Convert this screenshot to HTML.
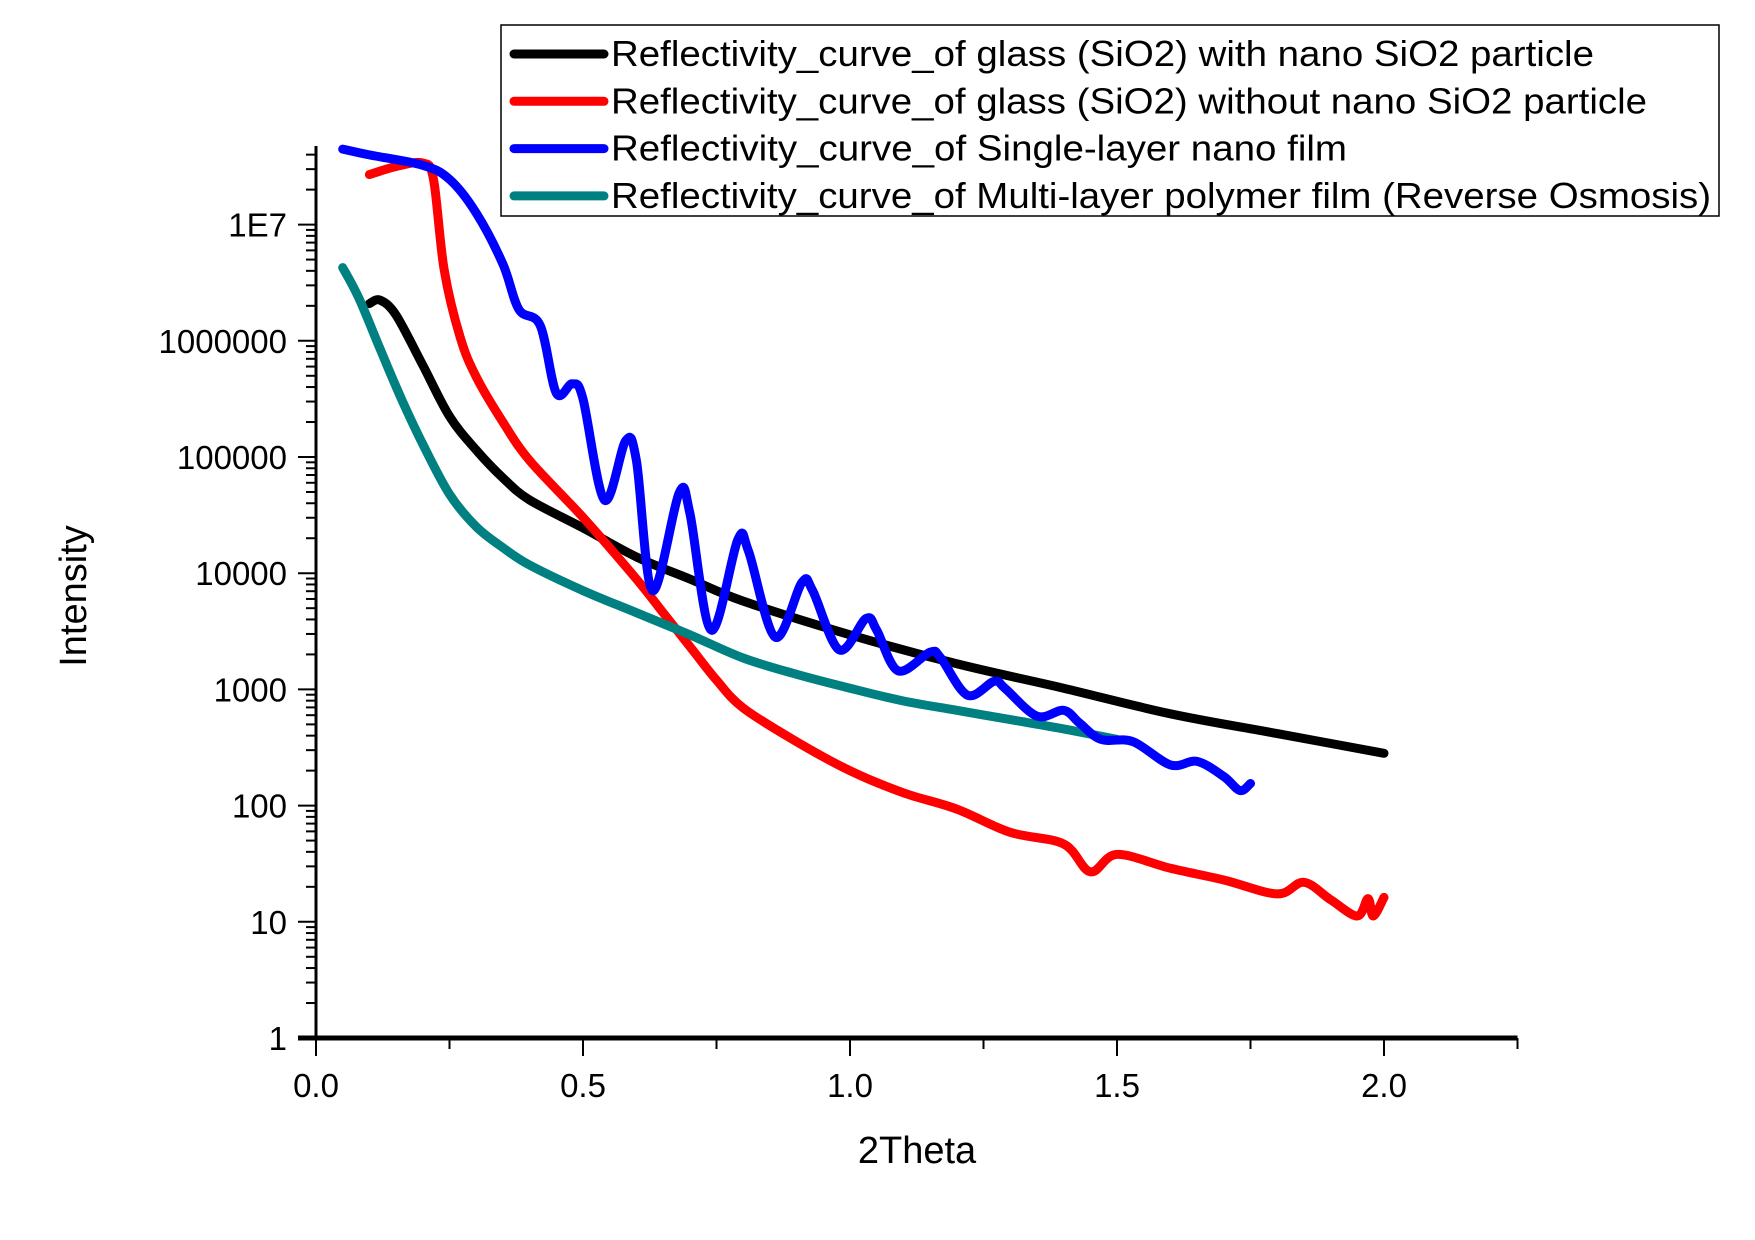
<!DOCTYPE html>
<html><head><meta charset="utf-8"><style>
html,body{margin:0;padding:0;background:#fff}
svg{display:block;font-family:"Liberation Sans",Arial,sans-serif}
</style></head><body>
<svg id="chart" width="1755" height="1240" viewBox="0 0 1755 1240" xmlns="http://www.w3.org/2000/svg">
<g id="axes"></g>
<g id="series"></g>
<text x="917" y="1163" font-size="38" text-anchor="middle">2Theta</text>
<text x="0" y="0" font-size="38" text-anchor="middle" transform="translate(86,596) rotate(-90)">Intensity</text>
<g id="legend"></g>
</svg>
<script>
const xTicks=[0,0.5,1.0,1.5,2.0];
const xTickLabels=["0.0","0.5","1.0","1.5","2.0"];
const yTickExps=[0,1,2,3,4,5,6,7];
const yTickLabels=["1","10","100","1000","10000","100000","1000000","1E7"];
const seriesNames=["Reflectivity_curve_of glass (SiO2) with nano SiO2 particle","Reflectivity_curve_of glass (SiO2) without nano SiO2 particle","Reflectivity_curve_of Single-layer nano film","Reflectivity_curve_of Multi-layer polymer film (Reverse Osmosis)"];
const blackX=[0.1,0.12,0.15,0.2,0.25,0.3,0.35,0.4,0.5,0.6,0.7,0.8,1.0,1.2,1.4,1.6,1.8,2.0];
const blackLog=[6.32,6.35,6.22,5.79,5.35,5.06,4.82,4.63,4.39,4.14,3.95,3.76,3.47,3.22,3.01,2.79,2.62,2.45];
const redX=[0.1,0.15,0.2,0.22,0.24,0.27,0.3,0.35,0.4,0.5,0.6,0.65,0.7,0.75,0.8,0.9,1.0,1.1,1.2,1.3,1.4,1.45,1.5,1.6,1.7,1.8,1.85,1.9,1.95,1.97,1.98,2.0];
const redLog=[7.43,7.5,7.53,7.39,6.61,6.03,5.69,5.3,4.97,4.48,3.95,3.66,3.37,3.08,2.84,2.55,2.3,2.11,1.97,1.77,1.67,1.43,1.58,1.46,1.36,1.24,1.34,1.19,1.05,1.2,1.05,1.21];
const blueX=[0.05,0.1,0.2,0.25,0.3,0.35,0.38,0.42,0.45,0.48,0.5,0.54,0.58,0.6,0.63,0.68,0.7,0.74,0.79,0.81,0.86,0.91,0.93,0.98,1.03,1.05,1.09,1.15,1.17,1.22,1.27,1.29,1.35,1.4,1.43,1.47,1.53,1.6,1.65,1.7,1.73,1.75];
const blueLog=[7.65,7.6,7.51,7.39,7.1,6.66,6.27,6.13,5.55,5.63,5.5,4.63,5.14,4.97,3.85,4.69,4.52,3.51,4.29,4.19,3.45,3.92,3.85,3.34,3.61,3.51,3.16,3.32,3.27,2.95,3.07,3.01,2.77,2.82,2.71,2.57,2.55,2.35,2.38,2.25,2.13,2.19];
const tealX=[0.05,0.08,0.12,0.16,0.2,0.25,0.3,0.35,0.4,0.5,0.6,0.7,0.8,0.9,1.0,1.1,1.2,1.3,1.4,1.5];
const tealLog=[6.63,6.37,5.93,5.5,5.11,4.68,4.4,4.22,4.07,3.85,3.66,3.47,3.27,3.13,3.01,2.9,2.82,2.74,2.66,2.57];

const X0=316,XU=534,Y0=1038,YD=116.2,YTOP=146,XEND=X0+2.25*XU;
const sx=v=>X0+v*XU, sy=l=>Y0-l*YD;
const NS="http://www.w3.org/2000/svg";
function mk(t,a,p){const e=document.createElementNS(NS,t);for(const k in a)e.setAttribute(k,a[k]);p.appendChild(e);return e;}
function smooth(pts){let d='M'+pts[0][0].toFixed(1)+' '+pts[0][1].toFixed(1);
 for(let i=0;i<pts.length-1;i++){const p0=pts[Math.max(0,i-1)],p1=pts[i],p2=pts[i+1],p3=pts[Math.min(pts.length-1,i+2)];
  const c1=[p1[0]+(p2[0]-p0[0])/6,p1[1]+(p2[1]-p0[1])/6],c2=[p2[0]-(p3[0]-p1[0])/6,p2[1]-(p3[1]-p1[1])/6];
  d+=' C'+c1.map(v=>v.toFixed(1)).join(' ')+' '+c2.map(v=>v.toFixed(1)).join(' ')+' '+p2[0].toFixed(1)+' '+p2[1].toFixed(1);}
 return d;}
const axes=document.getElementById('axes');
const xl=mk('line',{x1:X0-18,y1:Y0,x2:XEND,y2:Y0,stroke:'#000','stroke-width':5},axes);


const yl=mk('line',{x1:X0,y1:Y0,x2:X0,y2:YTOP,stroke:'#000','stroke-width':3},axes);


for(let v=0;v<=2.25+1e-9;v+=0.25){const maj=Math.abs(v*2-Math.round(v*2))<1e-9;
 const t=mk('line',{x1:sx(v),y1:Y0,x2:sx(v),y2:Y0+(maj?18:11),stroke:'#000','stroke-width':2},axes);
 
 }
xTicks.forEach((v,i)=>{const t=mk('text',{x:sx(v),y:Y0+59,'font-size':33,'text-anchor':'middle'},axes);t.textContent=xTickLabels[i];
 
 });
yTickExps.forEach((e,i)=>{const m=mk('line',{x1:X0-18,y1:sy(e),x2:X0,y2:sy(e),stroke:'#000','stroke-width':2},axes);
 
 
 const t=mk('text',{x:287,y:sy(e)+12,'font-size':33,'text-anchor':'end'},axes);t.textContent=yTickLabels[i];
 
 
 for(let k=2;k<=9;k++){const l=e+Math.log10(k);if(sy(l)<YTOP)break;
  const mt=mk('line',{x1:X0-10,y1:sy(l),x2:X0,y2:sy(l),stroke:'#000','stroke-width':2},axes);
  
  }});
const ser=document.getElementById('series');
const all=[[blackX,blackLog,'#000000','series-with-nano'],[redX,redLog,'#ff0000','series-without-nano'],[tealX,tealLog,'#008080','series-multi-layer'],[blueX,blueLog,'#0000ff','series-single-layer']];
all.forEach(([xs,ls,c,n])=>{const pts=xs.map((x,i)=>[sx(x),sy(ls[i])]);
 const p=mk('path',{d:smooth(pts),fill:'none',stroke:c,'stroke-width':9,'stroke-linejoin':'round','stroke-linecap':'round'},ser);
 
 });
const lg=document.getElementById('legend');
const box=mk('rect',{x:501,y:25,width:1218,height:191,fill:'#fff',stroke:'#000','stroke-width':1.5},lg);


const lc=['#000000','#ff0000','#0000ff','#008080'];
const lw=[983,1036,736,1100];
seriesNames.forEach((s,i)=>{const y=54+i*47.3;
 const l=mk('line',{x1:514,y1:y,x2:604,y2:y,stroke:lc[i],'stroke-width':9,'stroke-linecap':'round'},lg);
 
 
 const t=mk('text',{x:611,y:y+12,'font-size':36.5,textLength:lw[i],lengthAdjust:'spacingAndGlyphs'},lg);t.textContent=s;
 
 });
</script>
</body></html>
